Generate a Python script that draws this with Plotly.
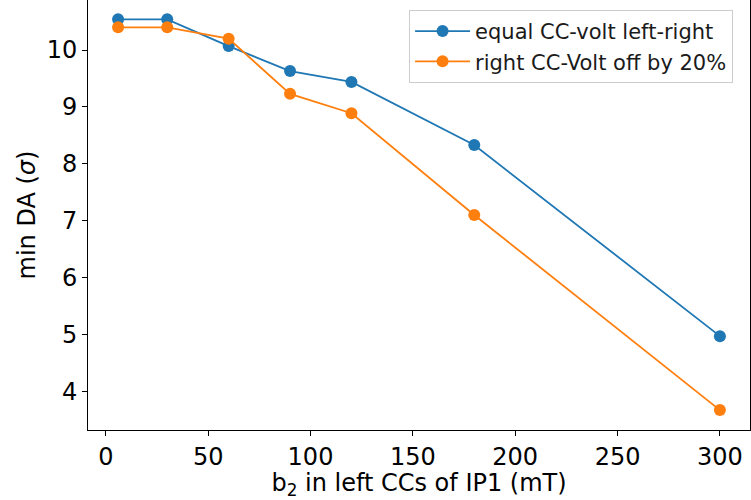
import plotly.graph_objects as go

x_vals = [6, 30, 60, 90, 120, 180, 300]
equal_vals = [10.54, 10.54, 10.07, 9.63, 9.44, 8.33, 4.97]
off20_vals = [10.40, 10.40, 10.20, 9.23, 8.89, 7.10, 3.67]
series_names = ["equal CC-volt left-right", "right CC-Volt off by 20%"]
colors = ["#1f77b4", "#ff7f0e"]

fig = go.Figure()
for name, vals, c in zip(series_names, [equal_vals, off20_vals], colors):
    fig.add_trace(go.Scatter(
        x=x_vals, y=vals, mode="lines+markers", name=name,
        line=dict(color=c, width=1.8),
        marker=dict(color=c, size=12),
    ))

font = "DejaVu Sans"
fig.update_layout(
    width=751, height=500,
    margin=dict(l=88, r=1, t=0, b=70),
    paper_bgcolor="white", plot_bgcolor="white",
    font=dict(family=font, size=24, color="black"),
    showlegend=True,
    legend=dict(
        x=0.485, y=0.977, xanchor="left", yanchor="top",
        bgcolor="rgba(255,255,255,0.8)", bordercolor="#cccccc", borderwidth=1,
        font=dict(family=font, size=21, color="#1a1a1a"),
        itemwidth=55, tracegroupgap=2,
    ),
    xaxis=dict(
        range=[-8.7, 314.7], tickvals=[0, 50, 100, 150, 200, 250, 300],
        showgrid=False, zeroline=False, showline=True, linecolor="black", linewidth=1,
        mirror=True, ticks="outside", ticklen=5, tickcolor="black",
        tickfont=dict(family=font, size=24),
        title=dict(text="b<sub>2</sub> in left CCs of IP1 (mT)", standoff=2,
                   font=dict(family=font, size=24)),
    ),
    yaxis=dict(
        range=[3.32, 10.88], tickvals=[4, 5, 6, 7, 8, 9, 10],
        showgrid=False, zeroline=False, showline=True, linecolor="black", linewidth=1,
        mirror=True, ticks="outside", ticklen=5, tickcolor="black",
        tickfont=dict(family=font, size=24),
        title=dict(text="min DA (<i>σ</i>)", standoff=4,
                   font=dict(family=font, size=24)),
    ),
)

fig.write_html("out.html")
